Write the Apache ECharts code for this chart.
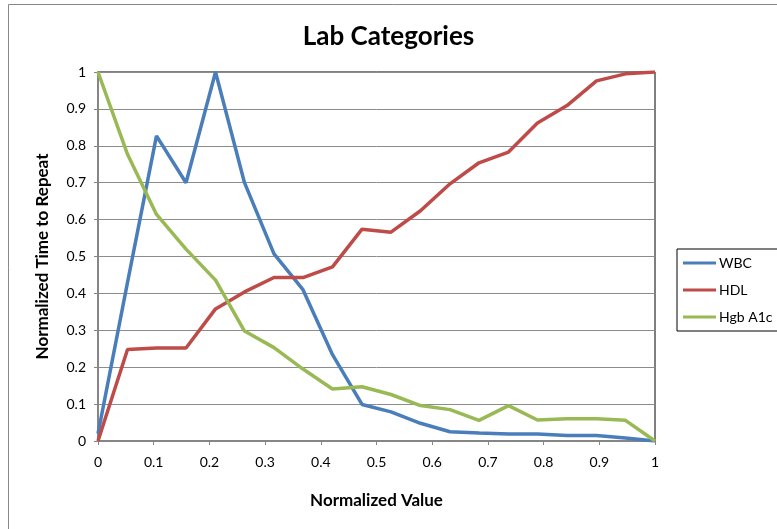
<!DOCTYPE html>
<html>
<head>
<meta charset="utf-8">
<script src="https://cdn.jsdelivr.net/npm/echarts@6/dist/echarts.min.js"></script>
<style>
  html, body { margin: 0; padding: 0; background: #fff; }
  #container { width: 777px; height: 529px; }
</style>
</head>
<body>
<div id="container"></div>
<script>
// normalized value (x) for every point
let xValues = [0, 0.053, 0.105, 0.158, 0.211, 0.263, 0.316, 0.368, 0.421, 0.474,
  0.526, 0.579, 0.632, 0.684, 0.737, 0.789, 0.842, 0.895, 0.947, 1]

let wbc = [0.02, 0.43, 0.827, 0.70, 1.0, 0.70, 0.507, 0.41, 0.234, 0.099,
  0.079, 0.048, 0.025, 0.022, 0.019, 0.019, 0.015, 0.015, 0.008, 0]
let hdl = [0, 0.248, 0.252, 0.252, 0.358, 0.404, 0.443, 0.443, 0.472, 0.574,
  0.566, 0.624, 0.697, 0.754, 0.783, 0.862, 0.909, 0.976, 0.995, 1.0]
let hgb = [1.0, 0.777, 0.614, 0.52, 0.436, 0.298, 0.253, 0.195, 0.141, 0.147,
  0.126, 0.096, 0.085, 0.056, 0.096, 0.057, 0.06, 0.06, 0.056, 0]

let seriesNames = ['WBC', 'HDL', 'Hgb A1c']
let colors = ['#4a7ebb', '#be4b48', '#98b954']

const pair = (ys) => xValues.map((x, i) => [x, ys[i]])

let font = 'Lato, "Open Sans", sans-serif'

let options = {
  animation: false,
  color: colors,
  textStyle: { fontFamily: font },
  title: {
    text: 'Lab Categories',
    left: 'center',
    top: 19,
    textStyle: { fontSize: 26, fontWeight: 'bold', color: '#000', fontFamily: font }
  },
  graphic: [{
    type: 'rect',
    shape: { x: 8.5, y: 4.5, width: 800, height: 600 },
    style: { fill: 'none', stroke: '#888', lineWidth: 1 },
    silent: true
  }],
  legend: {
    orient: 'vertical',
    left: 677,
    top: 249,
    data: seriesNames,
    icon: 'rect',
    itemWidth: 33,
    itemHeight: 3,
    itemGap: 13,
    padding: [7, 30, 7, 6],
    borderColor: '#000',
    borderWidth: 1,
    textStyle: { fontSize: 14, color: '#000', fontFamily: font, padding: [0, 0, 0, -2] }
  },
  grid: {
    left: 98,
    right: 122,
    top: 72,
    bottom: 88,
    show: true,
    borderColor: '#000',
    borderWidth: 1
  },
  xAxis: {
    type: 'value',
    min: 0,
    max: 1,
    interval: 0.1,
    name: 'Normalized Value',
    nameLocation: 'middle',
    nameGap: 51,
    nameTextStyle: { fontSize: 17, fontWeight: 'bold', color: '#000', fontFamily: font },
    axisLine: { show: true, lineStyle: { color: '#868686', width: 2 } },
    axisTick: { show: true, length: 4, lineStyle: { color: '#868686' } },
    axisLabel: { color: '#000', fontSize: 14, margin: 14 },
    splitLine: { show: false }
  },
  yAxis: {
    type: 'value',
    min: 0,
    max: 1,
    interval: 0.1,
    name: 'Normalized Time to Repeat',
    nameLocation: 'middle',
    nameGap: 47,
    nameTextStyle: { fontSize: 17, fontWeight: 'bold', color: '#000', fontFamily: font },
    axisLine: { show: true, lineStyle: { color: '#868686', width: 2 } },
    axisTick: { show: true, length: 4, lineStyle: { color: '#868686' } },
    axisLabel: { color: '#000', fontSize: 14, margin: 12 },
    splitLine: { show: true, lineStyle: { color: '#8c8c8c', width: 1 } }
  },
  series: [
    { name: seriesNames[0], type: 'line', data: pair(wbc), showSymbol: false, lineStyle: { width: 3.5 } },
    { name: seriesNames[1], type: 'line', data: pair(hdl), showSymbol: false, lineStyle: { width: 3.5 } },
    { name: seriesNames[2], type: 'line', data: pair(hgb), showSymbol: false, lineStyle: { width: 3.5 } }
  ]
}

let mychart = echarts.init(document.getElementById('container'))
mychart.setOption(options)
window.addEventListener('resize', () => { mychart.resize() })
</script>
</body>
</html>
